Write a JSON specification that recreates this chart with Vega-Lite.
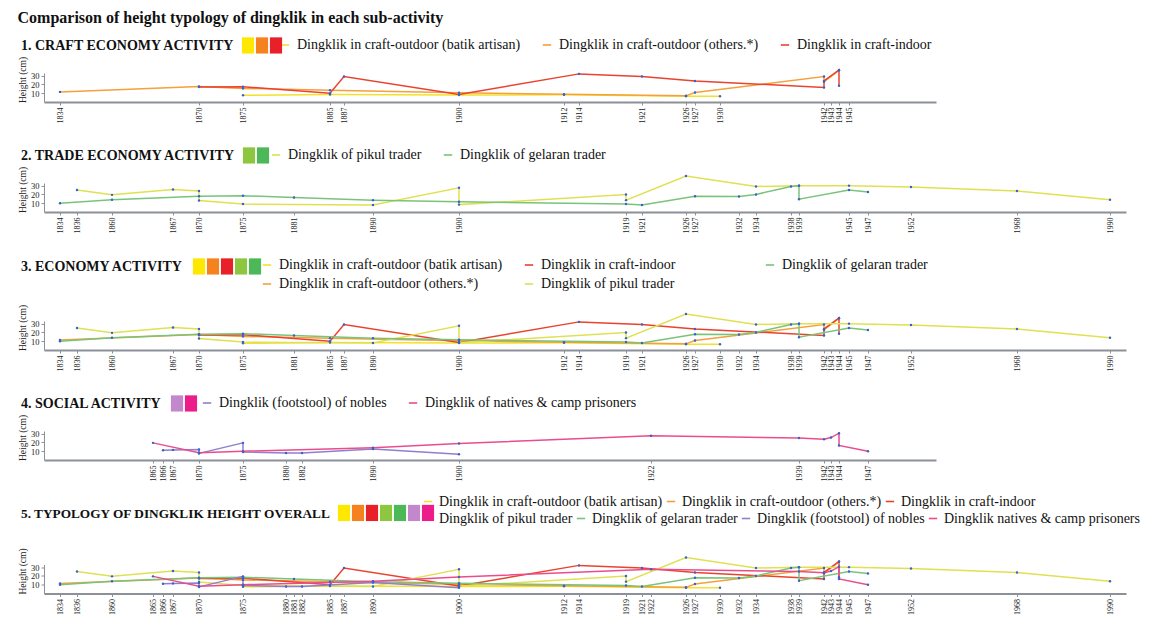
{
  "$schema": "https://vega.github.io/schema/vega-lite/v6.json",
  "background": "white",
  "padding": {"left": 17, "top": 10, "right": 0, "bottom": 0},
  "title": {"text": "Comparison of height typology of dingklik in each sub-activity", "anchor": "start", "font": "Liberation Serif", "fontSize": 16, "fontWeight": "bold", "color": "#111", "offset": 12},
  "datasets": {
    "pts": [
      {"s":"A","y":1875,"h":7.7,"o":1},{"s":"A","y":1885,"h":8.5,"o":2},{"s":"A","y":1900,"h":8,"o":3},{"s":"A","y":1912,"h":8.2,"o":4},{"s":"A","y":1926,"h":6.5,"o":5},{"s":"A","y":1930,"h":6.5,"o":6},
      {"s":"B","y":1834,"h":11.5,"o":7},{"s":"B","y":1870,"h":17.7,"o":8},{"s":"B","y":1875,"h":15.5,"o":9},{"s":"B","y":1885,"h":13.5,"o":10},{"s":"B","y":1900,"h":10.5,"o":11},{"s":"B","y":1912,"h":8.8,"o":12},{"s":"B","y":1926,"h":7,"o":13},{"s":"B","y":1927,"h":10.8,"o":14},{"s":"B","y":1942,"h":29,"o":15},{"s":"B","y":1942,"h":23,"o":16},{"s":"B","y":1944,"h":36,"o":17},
      {"s":"C","y":1870,"h":17,"o":18},{"s":"C","y":1875,"h":17.3,"o":19},{"s":"C","y":1885,"h":10,"o":20},{"s":"C","y":1887,"h":29,"o":21},{"s":"C","y":1900,"h":8.5,"o":22},{"s":"C","y":1914,"h":32,"o":23},{"s":"C","y":1921,"h":29,"o":24},{"s":"C","y":1927,"h":24,"o":25},{"s":"C","y":1942,"h":16.5,"o":26},{"s":"C","y":1942,"h":24,"o":27},{"s":"C","y":1944,"h":36.5,"o":28},{"s":"C","y":1944,"h":18.5,"o":29},
      {"s":"D","y":1836,"h":25,"o":30},{"s":"D","y":1860,"h":19.5,"o":31},{"s":"D","y":1867,"h":25.6,"o":32},{"s":"D","y":1870,"h":24,"o":33},{"s":"D","y":1870,"h":13,"o":34},{"s":"D","y":1875,"h":9,"o":35},{"s":"D","y":1890,"h":8,"o":36},{"s":"D","y":1900,"h":27.5,"o":37},{"s":"D","y":1900,"h":8.4,"o":38},{"s":"D","y":1919,"h":20,"o":39},{"s":"D","y":1919,"h":13.5,"o":40},{"s":"D","y":1926,"h":41,"o":41},{"s":"D","y":1934,"h":29,"o":42},{"s":"D","y":1939,"h":30,"o":43},{"s":"D","y":1945,"h":30,"o":44},{"s":"D","y":1952,"h":28.5,"o":45},{"s":"D","y":1968,"h":24,"o":46},{"s":"D","y":1990,"h":14,"o":47},
      {"s":"E","y":1834,"h":10,"o":48},{"s":"E","y":1860,"h":14,"o":49},{"s":"E","y":1870,"h":18,"o":50},{"s":"E","y":1875,"h":18.5,"o":51},{"s":"E","y":1881,"h":16.5,"o":52},{"s":"E","y":1890,"h":13.5,"o":53},{"s":"E","y":1900,"h":11.7,"o":54},{"s":"E","y":1919,"h":9,"o":55},{"s":"E","y":1921,"h":8,"o":56},{"s":"E","y":1927,"h":18,"o":57},{"s":"E","y":1932,"h":17.6,"o":58},{"s":"E","y":1934,"h":20,"o":59},{"s":"E","y":1938,"h":29,"o":60},{"s":"E","y":1939,"h":30,"o":61},{"s":"E","y":1939,"h":14.6,"o":62},{"s":"E","y":1945,"h":25,"o":63},{"s":"E","y":1947,"h":22.7,"o":64},
      {"s":"F","y":1866,"h":11,"o":65},{"s":"F","y":1867,"h":11.5,"o":66},{"s":"F","y":1870,"h":12,"o":67},{"s":"F","y":1870,"h":7.5,"o":68},{"s":"F","y":1875,"h":19.5,"o":69},{"s":"F","y":1875,"h":9,"o":70},{"s":"F","y":1880,"h":8,"o":71},{"s":"F","y":1882,"h":8,"o":72},{"s":"F","y":1890,"h":12.5,"o":73},{"s":"F","y":1900,"h":6.5,"o":74},
      {"s":"G","y":1865,"h":19.5,"o":75},{"s":"G","y":1870,"h":8.2,"o":76},{"s":"G","y":1875,"h":10,"o":77},{"s":"G","y":1890,"h":14,"o":78},{"s":"G","y":1900,"h":18.7,"o":79},{"s":"G","y":1922,"h":27.7,"o":80},{"s":"G","y":1939,"h":25,"o":81},{"s":"G","y":1942,"h":23.5,"o":82},{"s":"G","y":1943,"h":25.5,"o":83},{"s":"G","y":1944,"h":30.5,"o":84},{"s":"G","y":1944,"h":16.5,"o":85},{"s":"G","y":1947,"h":10,"o":86}
    ],
    "sw": [
      {"p":1,"k":"yel"},{"p":1,"k":"ora"},{"p":1,"k":"red"},
      {"p":2,"k":"lim"},{"p":2,"k":"grn"},
      {"p":3,"k":"yel"},{"p":3,"k":"ora"},{"p":3,"k":"red"},{"p":3,"k":"lim"},{"p":3,"k":"grn"},
      {"p":4,"k":"lav"},{"p":4,"k":"mag"},
      {"p":5,"k":"yel"},{"p":5,"k":"ora"},{"p":5,"k":"red"},{"p":5,"k":"lim"},{"p":5,"k":"grn"},{"p":5,"k":"lav"},{"p":5,"k":"mag"}
    ]
  },
  "config": {
    "view": {"stroke": null},
    "font": "Liberation Serif",
    "axis": {"labelFont": "Liberation Serif", "titleFont": "Liberation Serif", "labelColor": "#222", "titleColor": "#222", "grid": false, "domainColor": "#8c9099", "tickColor": "#8c9099"},
    "axisX": {"labelAngle": -90, "labelFontSize": 8, "tickSize": 3, "labelPadding": 2, "domainWidth": 2, "labelOverlap": false, "labelFlush": false},
    "axisY": {"labelFontSize": 8.5, "tickSize": 3, "labelPadding": 2, "domainWidth": 1, "titleFontSize": 9.5, "titleFontWeight": "normal", "titlePadding": 3, "titleY": 6.5},
    "legend": {"orient": "none", "direction": "horizontal", "padding": 0, "labelFont": "Liberation Serif", "labelFontSize": 14, "labelColor": "#111", "labelLimit": 400, "titleFont": "Liberation Serif", "titleFontSize": 14, "titleFontWeight": "bold", "titleColor": "#111", "titleLimit": 400, "symbolStrokeWidth": 1.6, "symbolSize": 70, "labelOffset": 5, "columnPadding": 18, "rowPadding": 5}
  },
  "resolve": {"scale": {"x": "independent", "y": "independent", "stroke": "independent", "color": "independent", "fill": "independent"}},
  "spacing": 13.5,
  "vconcat": [
    {
      "resolve": {"scale": {"x": "independent", "y": "independent", "stroke": "independent", "color": "independent", "fill": "independent"}},
      "spacing": 25,
      "vconcat": [
        {
          "width": 892, "height": 29,
          "data": {"name": "pts"},
          "encoding": {
            "x": {"field": "y", "type": "quantitative", "title": null, "scale": {"domain": [1830,1834,1836,1860,1865,1866,1867,1870,1875,1880,1881,1882,1885,1887,1890,1900,1912,1914,1919,1921,1922,1926,1927,1930,1932,1934,1938,1939,1942,1943,1944,1945,1947,1952,1955], "range": [0,16,33,68,109,119,129,155,199,242,250,258,286,300,329,415,520,535,582,598,607,642,651,676,695,712,747,755,780,787,795,805,824,867,892], "nice": false, "zero": false}, "axis": {"values": [1834,1870,1875,1885,1887,1900,1912,1914,1921,1926,1927,1930,1942,1943,1944,1945], "format": "d"}},
            "y": {"field": "h", "type": "quantitative", "title": "Height (cm)", "scale": {"domain": [0, 33], "nice": false}, "axis": {"values": [10, 20, 30]}}
          },
          "layer": [
            {"transform": [{"filter": {"field": "s", "oneOf": ["A","B","C"]}}], "mark": {"type": "line", "strokeWidth": 1.5},
             "encoding": {"order": {"field": "o"}, "stroke": {"field": "s", "type": "nominal", "scale": {"domain": ["A","B","C"], "range": ["#f2e12e","#f4a03c","#e9432e"]},
               "legend": {"title": null, "legendX": 234, "legendY": -35, "labelExpr": "datum.label=='A'?'Dingklik in craft-outdoor (batik artisan)':datum.label=='B'?'Dingklik in craft-outdoor (others.*)':'Dingklik in craft-indoor'"}}}},
            {"transform": [{"filter": {"field": "s", "oneOf": ["A","B","C"]}}], "mark": {"type": "point", "filled": true, "size": 6, "color": "#3b63c4", "opacity": 1}},
            {"data": {"name": "sw"}, "transform": [{"filter": "datum.p==1"}], "mark": {"type": "point", "opacity": 0},
             "encoding": {"fill": {"field": "k", "type": "nominal", "scale": {"domain": ["yel","ora","red"], "range": ["#ffe800","#f5821f","#e8202a"]},
               "legend": {"title": "1. CRAFT ECONOMY ACTIVITY", "titleOrient": "left", "titleAnchor": "middle", "titleBaseline": "middle", "titlePadding": 6, "legendX": -23, "legendY": -35, "symbolType": "M-1.35,-1.8H1.35V1.8H-1.35Z", "symbolSize": 81, "symbolStrokeWidth": 0, "symbolOpacity": 1, "labelExpr": "''", "labelOffset": 0, "columnPadding": 0}}}}
          ]
        },
        {
          "width": 1082, "height": 29,
          "data": {"name": "pts"},
          "encoding": {
            "x": {"field": "y", "type": "quantitative", "title": null, "scale": {"domain": [1830,1834,1836,1860,1865,1866,1867,1870,1875,1880,1881,1882,1885,1887,1890,1900,1912,1914,1919,1921,1922,1926,1927,1930,1932,1934,1938,1939,1942,1943,1944,1945,1947,1952,1968,1990,1994], "range": [0,16,33,68,109,119,129,155,199,242,250,258,286,300,329,415,520,535,582,598,607,642,651,676,695,712,747,755,780,787,795,805,824,867,973,1066,1082], "nice": false, "zero": false}, "axis": {"values": [1834,1836,1860,1867,1870,1875,1881,1890,1900,1919,1921,1926,1927,1932,1934,1938,1939,1945,1947,1952,1968,1990], "format": "d"}},
            "y": {"field": "h", "type": "quantitative", "title": "Height (cm)", "scale": {"domain": [0, 33], "nice": false}, "axis": {"values": [10, 20, 30]}}
          },
          "layer": [
            {"transform": [{"filter": {"field": "s", "oneOf": ["D","E"]}}], "mark": {"type": "line", "strokeWidth": 1.5},
             "encoding": {"order": {"field": "o"}, "stroke": {"field": "s", "type": "nominal", "scale": {"domain": ["D","E"], "range": ["#dfe152","#79c47a"]},
               "legend": {"title": null, "legendX": 225, "legendY": -35, "labelExpr": "datum.label=='D'?'Dingklik of pikul trader':'Dingklik of gelaran trader'"}}}},
            {"transform": [{"filter": {"field": "s", "oneOf": ["D","E"]}}], "mark": {"type": "point", "filled": true, "size": 6, "color": "#3b63c4", "opacity": 1}},
            {"data": {"name": "sw"}, "transform": [{"filter": "datum.p==2"}], "mark": {"type": "point", "opacity": 0},
             "encoding": {"fill": {"field": "k", "type": "nominal", "scale": {"domain": ["lim","grn"], "range": ["#8dc63f","#4cb857"]},
               "legend": {"title": "2. TRADE ECONOMY ACTIVITY", "titleOrient": "left", "titleAnchor": "middle", "titleBaseline": "middle", "titlePadding": 6, "legendX": -23, "legendY": -35, "symbolType": "M-1.35,-1.8H1.35V1.8H-1.35Z", "symbolSize": 81, "symbolStrokeWidth": 0, "symbolOpacity": 1, "labelExpr": "''", "labelOffset": 0, "columnPadding": 0}}}}
          ]
        },
        {
          "width": 1082, "height": 29,
          "data": {"name": "pts"},
          "encoding": {
            "x": {"field": "y", "type": "quantitative", "title": null, "scale": {"domain": [1830,1834,1836,1860,1865,1866,1867,1870,1875,1880,1881,1882,1885,1887,1890,1900,1912,1914,1919,1921,1922,1926,1927,1930,1932,1934,1938,1939,1942,1943,1944,1945,1947,1952,1968,1990,1994], "range": [0,16,33,68,109,119,129,155,199,242,250,258,286,300,329,415,520,535,582,598,607,642,651,676,695,712,747,755,780,787,795,805,824,867,973,1066,1082], "nice": false, "zero": false}, "axis": {"values": [1834,1836,1860,1867,1870,1875,1881,1885,1887,1890,1900,1912,1914,1919,1921,1926,1927,1930,1932,1934,1938,1939,1942,1943,1944,1945,1947,1952,1968,1990], "format": "d"}},
            "y": {"field": "h", "type": "quantitative", "title": "Height (cm)", "scale": {"domain": [0, 33], "nice": false}, "axis": {"values": [10, 20, 30]}}
          },
          "layer": [
            {"transform": [{"filter": {"field": "s", "oneOf": ["A","B","C","D"]}}], "mark": {"type": "line", "strokeWidth": 1.5},
             "encoding": {"order": {"field": "o"}, "stroke": {"field": "s", "type": "nominal", "scale": {"domain": ["A","C","B","D"], "range": ["#f2e12e","#e9432e","#f4a03c","#dfe152"]},
               "legend": {"title": null, "columns": 2, "legendX": 216, "legendY": -63, "labelExpr": "datum.label=='A'?'Dingklik in craft-outdoor (batik artisan)':datum.label=='B'?'Dingklik in craft-outdoor (others.*)':datum.label=='C'?'Dingklik in craft-indoor':'Dingklik of pikul trader'"}}}},
            {"transform": [{"filter": {"field": "s", "equal": "E"}}], "mark": {"type": "line", "strokeWidth": 1.5},
             "encoding": {"order": {"field": "o"}, "color": {"field": "s", "type": "nominal", "scale": {"domain": ["E"], "range": ["#79c47a"]},
               "legend": {"title": null, "legendX": 719, "legendY": -63, "labelExpr": "'Dingklik of gelaran trader'"}}}},
            {"transform": [{"filter": {"field": "s", "oneOf": ["A","B","C","D","E"]}}], "mark": {"type": "point", "filled": true, "size": 6, "color": "#3b63c4", "opacity": 1}},
            {"data": {"name": "sw"}, "transform": [{"filter": "datum.p==3"}], "mark": {"type": "point", "opacity": 0},
             "encoding": {"fill": {"field": "k", "type": "nominal", "scale": {"domain": ["yel","ora","red","lim","grn"], "range": ["#ffe800","#f5821f","#e8202a","#8dc63f","#4cb857"]},
               "legend": {"title": "3. ECONOMY ACTIVITY", "titleOrient": "left", "titleAnchor": "middle", "titleBaseline": "middle", "titlePadding": 8, "legendX": -23, "legendY": -62, "symbolType": "M-1.35,-1.8H1.35V1.8H-1.35Z", "symbolSize": 81, "symbolStrokeWidth": 0, "symbolOpacity": 1, "labelExpr": "''", "labelOffset": 0, "columnPadding": 0}}}}
          ]
        },
        {
          "width": 892, "height": 29,
          "data": {"name": "pts"},
          "encoding": {
            "x": {"field": "y", "type": "quantitative", "title": null, "scale": {"domain": [1830,1834,1836,1860,1865,1866,1867,1870,1875,1880,1881,1882,1885,1887,1890,1900,1912,1914,1919,1921,1922,1926,1927,1930,1932,1934,1938,1939,1942,1943,1944,1945,1947,1952,1955], "range": [0,16,33,68,109,119,129,155,199,242,250,258,286,300,329,415,520,535,582,598,607,642,651,676,695,712,747,755,780,787,795,805,824,867,892], "nice": false, "zero": false}, "axis": {"values": [1865,1866,1867,1870,1875,1880,1882,1890,1900,1922,1939,1942,1943,1944,1947], "format": "d"}},
            "y": {"field": "h", "type": "quantitative", "title": "Height (cm)", "scale": {"domain": [0, 33], "nice": false}, "axis": {"values": [10, 20, 30]}}
          },
          "layer": [
            {"transform": [{"filter": {"field": "s", "oneOf": ["F","G"]}}], "mark": {"type": "line", "strokeWidth": 1.5},
             "encoding": {"order": {"field": "o"}, "stroke": {"field": "s", "type": "nominal", "scale": {"domain": ["F","G"], "range": ["#8f7fd0","#ec4c8c"]},
               "legend": {"title": null, "legendX": 156, "legendY": -35, "labelExpr": "datum.label=='F'?'Dingklik (footstool) of nobles':'Dingklik of natives & camp prisoners'"}}}},
            {"transform": [{"filter": {"field": "s", "oneOf": ["F","G"]}}], "mark": {"type": "point", "filled": true, "size": 6, "color": "#3b63c4", "opacity": 1}},
            {"data": {"name": "sw"}, "transform": [{"filter": "datum.p==4"}], "mark": {"type": "point", "opacity": 0},
             "encoding": {"fill": {"field": "k", "type": "nominal", "scale": {"domain": ["lav","mag"], "range": ["#c388cc","#ec1c8a"]},
               "legend": {"title": "4. SOCIAL ACTIVITY", "titleOrient": "left", "titleAnchor": "middle", "titleBaseline": "middle", "titlePadding": 7, "legendX": -23, "legendY": -35, "symbolType": "M-1.35,-1.8H1.35V1.8H-1.35Z", "symbolSize": 81, "symbolStrokeWidth": 0, "symbolOpacity": 1, "labelExpr": "''", "labelOffset": 0, "columnPadding": 0}}}}
          ]
        }
      ]
    },
    {
      "width": 1082, "height": 29,
      "data": {"name": "pts"},
      "encoding": {
        "x": {"field": "y", "type": "quantitative", "title": null, "scale": {"domain": [1830,1834,1836,1860,1865,1866,1867,1870,1875,1880,1881,1882,1885,1887,1890,1900,1912,1914,1919,1921,1922,1926,1927,1930,1932,1934,1938,1939,1942,1943,1944,1945,1947,1952,1968,1990,1994], "range": [0,16,33,68,109,119,129,155,199,242,250,258,286,300,329,415,520,535,582,598,607,642,651,676,695,712,747,755,780,787,795,805,824,867,973,1066,1082], "nice": false, "zero": false}, "axis": {"values": [1834,1836,1860,1865,1866,1867,1870,1875,1880,1881,1882,1885,1887,1890,1900,1912,1914,1919,1921,1922,1926,1927,1930,1932,1934,1938,1939,1942,1943,1944,1945,1947,1952,1968,1990], "format": "d"}},
        "y": {"field": "h", "type": "quantitative", "title": "Height (cm)", "scale": {"domain": [0, 33], "nice": false}, "axis": {"values": [10, 20, 30]}}
      },
      "layer": [
        {"transform": [{"filter": {"field": "s", "oneOf": ["A","B","C"]}}], "mark": {"type": "line", "strokeWidth": 1.5},
         "encoding": {"order": {"field": "o"}, "stroke": {"field": "s", "type": "nominal", "scale": {"domain": ["A","B","C"], "range": ["#f2e12e","#f4a03c","#e9432e"]},
           "legend": {"title": null, "columnPadding": 0, "labelOffset": 4, "legendX": 377, "legendY": -70, "labelExpr": "datum.label=='A'?'Dingklik in craft-outdoor (batik artisan)':datum.label=='B'?'Dingklik in craft-outdoor (others.*)':'Dingklik in craft-indoor'"}}}},
        {"transform": [{"filter": {"field": "s", "oneOf": ["D","E","F","G"]}}], "mark": {"type": "line", "strokeWidth": 1.5},
         "encoding": {"order": {"field": "o"}, "color": {"field": "s", "type": "nominal", "scale": {"domain": ["D","E","F","G"], "range": ["#dfe152","#79c47a","#8f7fd0","#ec4c8c"]},
           "legend": {"title": null, "columnPadding": 0, "labelOffset": 4, "legendX": 377, "legendY": -53, "labelExpr": "datum.label=='D'?'Dingklik of pikul trader':datum.label=='E'?'Dingklik of gelaran trader':datum.label=='F'?'Dingklik (footstool) of nobles':'Dingklik natives & camp prisoners'"}}}},
        {"mark": {"type": "point", "filled": true, "size": 6, "color": "#3b63c4", "opacity": 1}},
        {"data": {"name": "sw"}, "transform": [{"filter": "datum.p==5"}], "mark": {"type": "point", "opacity": 0},
         "encoding": {"fill": {"field": "k", "type": "nominal", "scale": {"domain": ["yel","ora","red","lim","grn","lav","mag"], "range": ["#ffe800","#f5821f","#e8202a","#8dc63f","#4cb857","#c388cc","#ec1c8a"]},
           "legend": {"title": "5. TYPOLOGY OF DINGKLIK HEIGHT OVERALL", "titleFontSize": 13.3, "titleOrient": "left", "titleAnchor": "middle", "titleBaseline": "middle", "titlePadding": 5, "legendX": -23, "legendY": -59, "symbolType": "M-1.35,-1.8H1.35V1.8H-1.35Z", "symbolSize": 81, "symbolStrokeWidth": 0, "symbolOpacity": 1, "labelExpr": "''", "labelOffset": 0, "columnPadding": 0}}}}
      ]
    }
  ]
}
